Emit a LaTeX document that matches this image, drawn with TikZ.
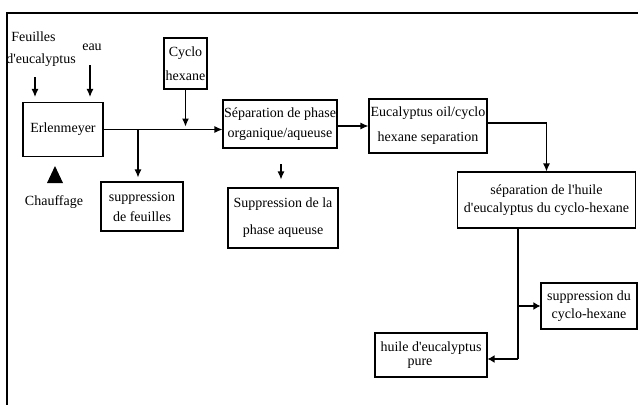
\documentclass[tikz,border=0pt]{standalone}
\usepackage{fontspec}
\setmainfont{Liberation Serif}[Ligatures=TeXOff]
\usetikzlibrary{arrows.meta}
\begin{document}
\begin{tikzpicture}[x=1pt,y=-1pt,
  box/.style={draw, line width=1.1pt, inner sep=0pt, align=center, font=\fontsize{14}{#1}\selectfont},
  box/.default=16,
  lbl/.style={inner sep=0pt, align=center, font=\fontsize{14}{#1}\selectfont},
  lbl/.default=16,
  arr/.style={line width=1.1pt, -{Latex[length=8pt,width=7pt]}},
  barr/.style={line width=2pt, -{Latex[length=7pt,width=8pt]}},
  ln/.style={line width=1.1pt}]
\useasboundingbox (0,0) rectangle (638,405);
\fill[white] (0,0) rectangle (638,405);
\draw[line width=2.5pt] (638,13) -- (7,13) -- (7,405);

% boxes
\node[box, minimum width=80pt, minimum height=54pt] (erl) at (63,129.5) {Erlenmeyer};
\node[box=24, minimum width=43pt, minimum height=51pt] (cyc) at (185.5,63.5) {Cyclo\\hexane};
\node[box=20, minimum width=82pt, minimum height=49pt] (supf) at (142,206.5) {suppression\\de feuilles};
\node[box=20, minimum width=114pt, minimum height=48pt] (sep) at (280,124) {Séparation de phase\\organique/aqueuse};
\node[box=27, minimum width=110pt, minimum height=60pt] (supa) at (283,218) {Suppression de la\\phase aqueuse};
\node[box=25, minimum width=118pt, minimum height=54pt] (euc) at (428,126) {Eucalyptus oil/cyclo\\hexane separation};
\node[box=18, minimum width=178pt, minimum height=56pt] (seph) at (546.5,200) {séparation de l'huile\\d'eucalyptus du cyclo-hexane};
\node[box=18, minimum width=96pt, minimum height=46pt] (supc) at (589,306) {suppression du\\cyclo-hexane};
\node[box=14, align=left, minimum width=112pt, minimum height=44pt] (pure) at (431,355) {huile d'eucalyptus\\\hspace*{27pt}pure};

% labels
\node[lbl=22, align=left] (feu) at (41,49) {\hspace*{5pt}Feuilles\\d'eucalyptus};
\node[lbl] (eau) at (92,47) {eau};
\node[lbl] (chauf) at (54,202) {Chauffage};

% heating triangle
\fill (47,183) -- (55,166) -- (63,183) -- cycle;

% connectors
\coordinate (fa) at (35,77);
\draw[arr, shorten >=5pt] (fa) -- (fa |- erl.north);
\coordinate (ea) at (90,65);
\draw[arr, shorten >=5pt] (ea) -- (ea |- erl.north);
\draw[arr, shorten >=3pt] (cyc.south) -- (cyc.south |- erl.east);
\draw[arr] (erl.east) -- (erl.east -| sep.west);
\coordinate (br) at (138,129.5);
\draw[arr, shorten >=4pt] (br) -- (br |- supf.north);
\coordinate (sd) at (281,164);
\draw[arr, shorten >=8pt] (sd) -- (sd |- supa.north);
\draw[arr] (euc.west -| sep.east) -- (euc.west);
\draw[arr] ([yshift=3pt]euc.east) -| (seph.north);
\coordinate (v1) at (518,359);
\draw[ln] (seph.south -| v1) -- (v1);
\draw[barr] (v1 |- supc.west) -- (supc.west);
\draw[barr] (v1) -- (v1 -| pure.east);
\end{tikzpicture}
\end{document}
